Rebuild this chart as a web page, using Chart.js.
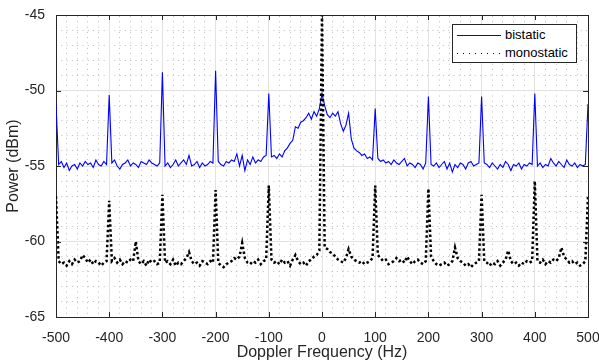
<!DOCTYPE html>
<html>
<head>
<meta charset="utf-8">
<title>Doppler spectrum</title>
<script src="https://cdn.jsdelivr.net/npm/chart.js@4.4.1/dist/chart.umd.min.js"></script>
<style>
    body { margin: 0; background: #fff; }
    #wrap { position: relative; width: 599px; height: 363px; }
    #legend {
        position: absolute; left: 452px; top: 24px; width: 123px; height: 37px;
        border: 1px solid #262626; background: #fff;
        font: 13px "Liberation Sans", Arial, sans-serif; color: #000;
    }
    #legend .row { position: absolute; left: 0; width: 123px; height: 16px; line-height: 16px; }
    #legend .sample { position: absolute; left: 4px; top: 8px; width: 44px; height: 1px; }
    #legend .label { position: absolute; left: 52px; top: 0; white-space: nowrap; }
</style>
</head>
<body>
<div id="wrap">
    <canvas id="spectrum" width="599" height="363"></canvas>
    <div id="legend"></div>
</div>
<script>
"use strict";

// sampling grid of the spectrum (Hz)
const freqStart = -500, freqStep = 5, freqCount = 201;

const seriesLabels = ['bistatic', 'monostatic'];

// bistatic power (dBm), one row per 100 Hz
const bistatic = [
    -50.9, -54.9, -54.7, -55.1, -54.8, -55.3, -55.0, -54.9, -55.2, -54.8, -55.0, -54.7, -54.9, -54.8, -55.1, -54.6, -54.9, -55.0, -54.7, -54.9,
    -50.3, -54.8, -54.6, -55.0, -55.2, -54.9, -54.8, -54.6, -55.0, -54.8, -54.9, -55.1, -54.7, -54.8, -54.9, -54.6, -54.8, -54.9, -55.0, -54.8,
    -48.8, -55.0, -54.8, -55.1, -54.9, -54.6, -55.0, -54.8, -54.6, -54.9, -54.3, -55.0, -54.9, -54.7, -55.1, -54.8, -55.0, -54.9, -54.7, -54.8,
    -48.7, -54.7, -54.9, -55.0, -54.7, -54.8, -54.6, -54.7, -54.2, -55.0, -54.3, -55.3, -54.6, -54.9, -54.4, -54.8, -54.6, -54.7, -54.4, -54.3,
    -50.2, -54.4, -54.3, -54.5, -54.2, -54.4, -54.0, -53.8, -53.5, -53.3, -52.4, -52.5, -52.1, -52.0, -51.8, -51.5, -51.9, -51.4, -51.7, -51.2,
    -50.2, -51.0, -51.6, -51.8, -51.5, -51.7, -51.4, -52.2, -52.7, -52.3, -51.5, -53.2, -53.8, -54.0, -54.1, -54.3, -54.2, -54.5, -54.4, -54.6,
    -51.2, -54.5, -54.7, -54.6, -54.8, -54.7, -54.9, -54.6, -54.8, -54.9, -54.7, -54.5, -55.0, -54.8, -54.9, -55.1, -54.8, -54.9, -55.2, -54.8,
    -50.4, -54.9, -55.0, -54.8, -55.1, -54.9, -54.7, -55.2, -54.8, -55.4, -54.9, -55.1, -54.8, -54.9, -55.2, -54.8, -54.7, -55.0, -54.9, -54.8,
    -50.4, -54.8, -54.9, -55.1, -54.8, -55.0, -55.2, -54.9, -55.1, -54.7, -54.9, -55.3, -54.9, -55.0, -54.8, -55.2, -54.9, -55.0, -54.8, -54.9,
    -50.2, -55.0, -54.8, -55.1, -54.9, -55.0, -54.5, -54.8, -55.0, -54.7, -54.9, -55.1, -54.6, -54.9, -55.0, -54.8, -55.1, -54.9, -55.0, -54.9,
    -50.9
];

// monostatic power (dBm), one row per 100 Hz
const monostatic = [
    -57.0, -61.3, -61.5, -61.4, -61.6, -61.3, -61.5, -61.2, -61.4, -61.3, -60.9, -61.1, -61.4, -61.2, -61.5, -61.3, -61.4, -61.6, -61.4, -61.3,
    -57.3, -61.3, -61.1, -61.4, -61.2, -61.5, -61.3, -61.4, -61.2, -61.3, -60.0, -61.3, -61.5, -61.3, -61.6, -61.2, -61.4, -61.3, -61.5, -61.4,
    -56.9, -61.4, -61.3, -61.5, -61.2, -61.6, -61.4, -61.5, -61.3, -61.1, -60.7, -61.3, -61.5, -61.4, -61.6, -61.3, -61.4, -61.5, -61.3, -61.4,
    -56.6, -61.4, -61.6, -61.7, -61.5, -61.4, -61.3, -61.1, -61.2, -61.0, -60.1, -61.1, -61.4, -61.5, -61.3, -61.4, -61.2, -61.5, -61.3, -61.2,
    -56.3, -61.2, -61.4, -61.3, -61.5, -61.2, -61.4, -61.3, -61.6, -61.2, -60.9, -61.3, -61.5, -61.4, -61.6, -61.3, -61.2, -61.0, -60.9, -60.6,
    -45.0, -60.4, -60.5, -60.7, -60.8, -61.0, -61.2, -61.3, -61.4, -61.1, -60.5, -61.0, -61.2, -61.3, -61.4, -61.3, -61.5, -61.4, -61.3, -61.1,
    -56.3, -60.9, -61.1, -61.3, -61.2, -61.5, -61.4, -61.3, -61.1, -61.3, -61.2, -61.4, -61.0, -61.3, -61.5, -61.3, -61.2, -61.4, -61.5, -61.3,
    -56.5, -61.0, -61.3, -61.5, -61.6, -61.5, -61.4, -61.6, -61.5, -61.3, -60.4, -61.1, -61.3, -61.4, -61.6, -61.5, -61.7, -61.5, -61.4, -61.3,
    -56.9, -61.3, -61.4, -61.6, -61.4, -61.5, -61.3, -61.6, -61.4, -61.2, -60.6, -61.3, -61.5, -61.4, -61.6, -61.4, -61.5, -61.3, -61.4, -61.3,
    -56.0, -61.3, -61.4, -61.2, -61.5, -61.3, -61.4, -61.2, -61.3, -61.1, -60.4, -61.0, -61.2, -61.4, -61.3, -61.5, -61.4, -61.6, -61.5, -61.3,
    -57.0
];

const xTicks = [-500, -400, -300, -200, -100, 0, 100, 200, 300, 400, 500];
const yTicks = [-65, -60, -55, -50, -45];

const axisColor = '#262626';
const fontFamily = '"Liberation Sans", Arial, Helvetica, sans-serif';

let freq = [];
for (let i = 0; i < freqCount; i++) {
    freq.push(freqStart + i * freqStep);
}

function toPoints(values) {
    return freq.map(function(f, i) { return { x: f, y: values[i] }; });
}

function fixedTicks(list) {
    return function(scale) {
        scale.ticks = list.map(function(v) { return { value: v }; });
    };
}

// MATLAB style tick marks pointing into the plot box
const innerTicks = {
    id: 'innerTicks',
    afterDatasetsDraw: function(chart) {
        const ctx = chart.ctx, area = chart.chartArea;
        const x = chart.scales.x, y = chart.scales.y;
        ctx.save();
        ctx.strokeStyle = axisColor;
        ctx.lineWidth = 1;
        ctx.beginPath();
        xTicks.forEach(function(v) {
            const px = Math.round(x.getPixelForValue(v)) + 0.5;
            ctx.moveTo(px, area.bottom); ctx.lineTo(px, area.bottom - 5);
            ctx.moveTo(px, area.top); ctx.lineTo(px, area.top + 5);
        });
        yTicks.forEach(function(v) {
            const py = Math.round(y.getPixelForValue(v)) + 0.5;
            ctx.moveTo(area.left, py); ctx.lineTo(area.left + 5, py);
            ctx.moveTo(area.right, py); ctx.lineTo(area.right - 5, py);
        });
        ctx.stroke();
        ctx.restore();
    }
};

const minorGrid = {
    display: true,
    color: '#bdbdbd',
    lineWidth: 1,
    drawTicks: false
};

const chart = new Chart(document.getElementById('spectrum'), {
    type: 'line',
    data: {
        datasets: [{
            label: seriesLabels[0],
            data: toPoints(bistatic),
            borderColor: '#0000ff',
            borderWidth: 1.1,
            pointRadius: 0,
            tension: 0,
            order: 1
        }, {
            label: seriesLabels[1],
            data: toPoints(monostatic),
            borderColor: '#000000',
            borderWidth: 2.5,
            borderDash: [2.5, 2.5],
            borderCapStyle: 'butt',
            pointRadius: 0,
            tension: 0,
            order: 0
        }]
    },
    options: {
        responsive: false,
        animation: false,
        parsing: false,
        layout: { padding: { top: 15, right: 11, bottom: 0, left: 0 } },
        plugins: {
            legend: { display: false },
            tooltip: { enabled: false }
        },
        scales: {
            xMinor: {
                type: 'linear', position: 'top', min: -500, max: 500,
                ticks: { display: false, stepSize: 20 },
                grid: minorGrid,
                border: { display: true, color: axisColor, width: 1, dash: [1, 4.3] }
            },
            yMinor: {
                type: 'linear', position: 'right', min: -65, max: -45,
                ticks: { display: false, stepSize: 1 },
                grid: minorGrid,
                border: { display: true, color: axisColor, width: 1, dash: [1, 4.3] }
            },
            x: {
                type: 'linear', position: 'bottom', min: -500, max: 500,
                afterBuildTicks: fixedTicks(xTicks),
                afterFit: function(scale) {
                    scale.height = 46;
                    scale.paddingLeft = 0;
                    scale.paddingRight = 0;
                },
                ticks: { color: axisColor, padding: 13, maxRotation: 0, font: { family: fontFamily, size: 14 } },
                grid: { color: '#e2e2e2', lineWidth: 1, drawTicks: false },
                border: { color: axisColor, width: 1 },
                title: {
                    display: true, text: 'Doppler Frequency (Hz)', color: axisColor,
                    padding: { top: 0, bottom: 1 }, font: { family: fontFamily, size: 16 }
                }
            },
            y: {
                type: 'linear', position: 'left', min: -65, max: -45,
                afterBuildTicks: fixedTicks(yTicks),
                afterFit: function(scale) {
                    scale.width = 56;
                    scale.paddingTop = 0;
                    scale.paddingBottom = 0;
                },
                ticks: { color: axisColor, padding: 11, font: { family: fontFamily, size: 14 } },
                grid: { color: '#e2e2e2', lineWidth: 1, drawTicks: false },
                border: { color: axisColor, width: 1 },
                title: {
                    display: true, text: 'Power (dBm)', color: axisColor,
                    padding: { top: 4, bottom: 0 }, font: { family: fontFamily, size: 16 }
                }
            }
        }
    },
    plugins: [innerTicks]
});

// legend box in the top right corner of the plot
let legend = document.getElementById('legend');
chart.data.datasets.forEach(function(ds, i) {
    let row = document.createElement('div');
    row.className = 'row';
    row.style.top = (2 + i * 17.5) + 'px';
    let sample = document.createElement('span');
    sample.className = 'sample';
    if (ds.borderDash) {
        sample.style.height = '1.5px';
        sample.style.background = 'repeating-linear-gradient(to right, ' + ds.borderColor +
            ' 0 1.5px, transparent 1.5px 6px)';
    } else {
        sample.style.background = ds.borderColor;
    }
    let label = document.createElement('span');
    label.className = 'label';
    label.textContent = ds.label;
    row.appendChild(sample);
    row.appendChild(label);
    legend.appendChild(row);
});
</script>
</body>
</html>
